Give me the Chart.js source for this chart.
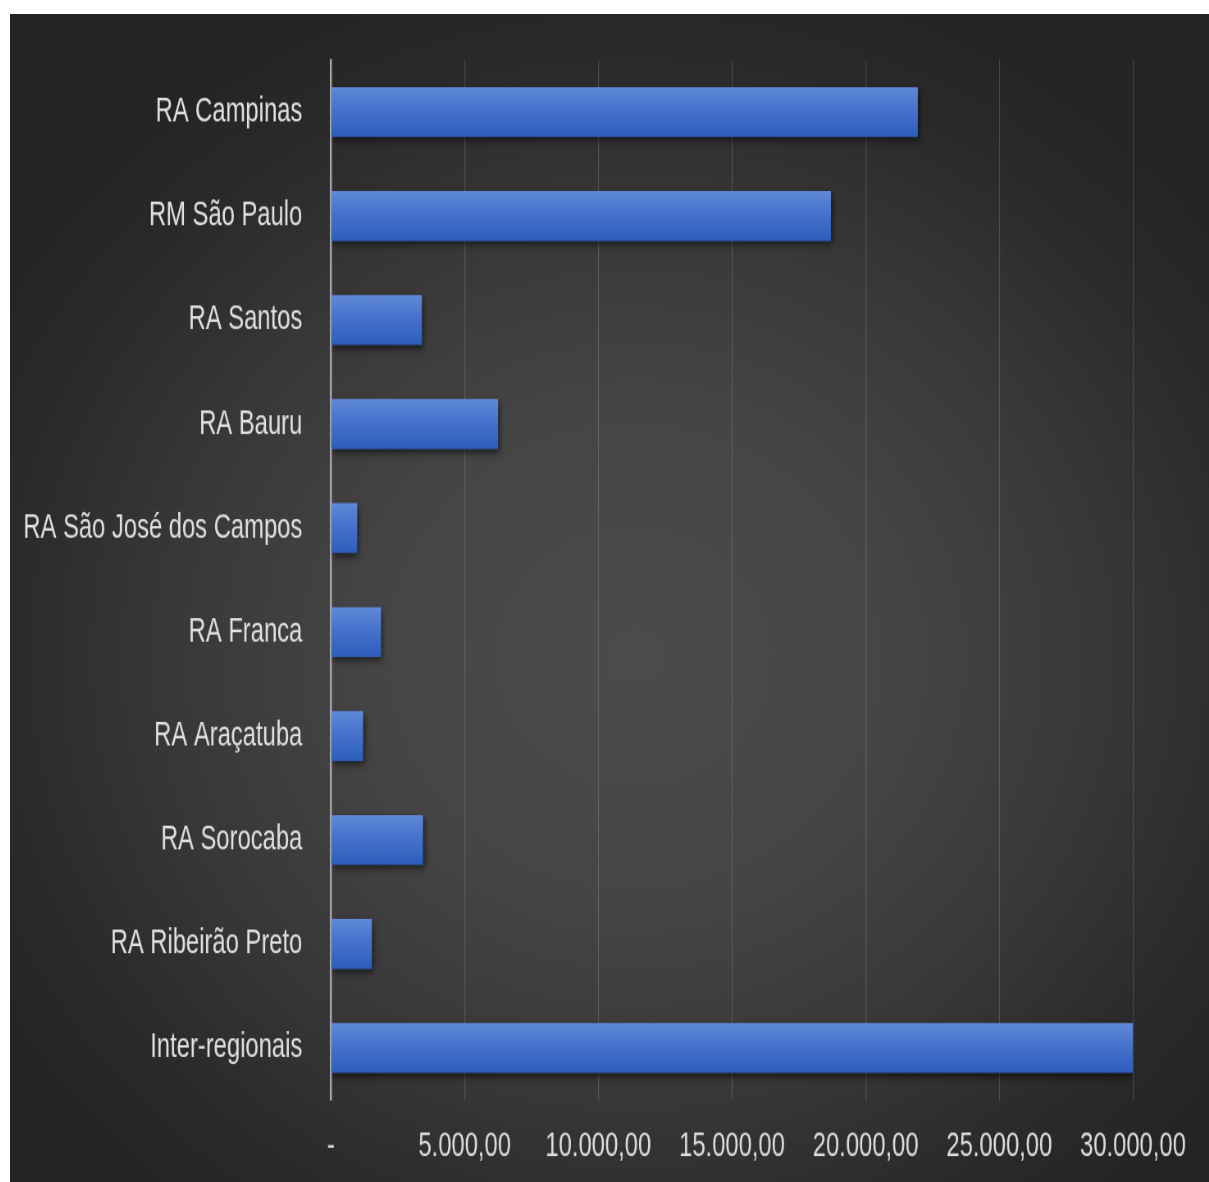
<!DOCTYPE html>
<html>
<head>
<meta charset="utf-8">
<script src="https://cdn.jsdelivr.net/npm/chart.js@4/dist/chart.umd.min.js"></script>
<style>
  html, body { margin: 0; padding: 0; background: #ffffff; width: 1209px; height: 1182px; overflow: hidden; }
  #frame {
    position: absolute; left: 10px; top: 14px; width: 1199px; height: 1168px;
    background: radial-gradient(ellipse 62% 60% at 52% 55%, #4b4b4b 0%, #454545 35%, #383838 62%, #2a2a2a 85%, #242424 100%);
    overflow: hidden;
  }
  #c { position: absolute; left: 0; top: 0; transform-origin: 0 0; transform: scale(0.82011, 1.17980); }
</style>
</head>
<body>
<div id="frame"><canvas id="c" width="1462" height="990"></canvas></div>
<script>
const categories = [
  'RA Campinas',
  'RM São Paulo',
  'RA Santos',
  'RA Bauru',
  'RA São José dos Campos',
  'RA Franca',
  'RA Araçatuba',
  'RA Sorocaba',
  'RA Ribeirão Preto',
  'Inter-regionais'
];
const values = [21950, 18700, 3400, 6250, 980, 1870, 1200, 3440, 1530, 30000];
const xTickValues = [0, 5000, 10000, 15000, 20000, 25000, 30000];
const xTickLabels = ['-', '5.000,00', '10.000,00', '15.000,00', '20.000,00', '25.000,00', '30.000,00'];

const FONT = "'Liberation Sans', Arial, sans-serif";

const barStyle = {
  id: 'barStyle',
  beforeDatasetsDraw(chart) {
    const ctx = chart.ctx;
    chart.getDatasetMeta(0).data.forEach(el => {
      const top = el.y - el.height / 2, bot = el.y + el.height / 2;
      const g = ctx.createLinearGradient(0, top, 0, bot);
      g.addColorStop(0, '#6089d9');
      g.addColorStop(0.45, '#4673cc');
      g.addColorStop(1, '#2d5dbc');
      el.options.backgroundColor = g;
    });
    ctx.save();
    ctx.shadowColor = 'rgba(0,0,0,0.55)';
    ctx.shadowBlur = 6;
    ctx.shadowOffsetX = 2;
    ctx.shadowOffsetY = 3;
  },
  afterDatasetsDraw(chart) {
    chart.ctx.restore();
  }
};

new Chart(document.getElementById('c'), {
  type: 'bar',
  data: {
    labels: categories,
    datasets: [{
      data: values,
      backgroundColor: () => '#4472c4',
      borderWidth: 0,
      categoryPercentage: 1,
      barPercentage: 0.48
    }]
  },
  options: {
    indexAxis: 'y',
    responsive: false,
    animation: false,
    layout: { padding: { left: 0, right: 92.7, top: 39, bottom: 0 } },
    plugins: { legend: { display: false }, tooltip: { enabled: false } },
    scales: {
      x: {
        min: 0, max: 30000,
        afterBuildTicks(scale) { scale.ticks = xTickValues.map(v => ({ value: v })); },
        afterFit(scale) { scale.height = 69.5; scale.paddingLeft = 0; scale.paddingRight = 0; },
        grid: { color: 'rgba(255,255,255,0.15)', lineWidth: 1.2, drawTicks: false },
        border: { display: false },
        ticks: {
          color: '#dcdcdc',
          font: { family: FONT, size: 29 },
          padding: 22,
          maxRotation: 0,
          autoSkip: false,
          callback: (v, i) => xTickLabels[i]
        }
      },
      y: {
        afterFit(scale) { scale.width = 391.4; scale.paddingTop = 0; scale.paddingBottom = 0; },
        grid: { display: false },
        border: { display: true, color: '#a8a8a8', width: 2.4 },
        ticks: {
          color: '#e0e0e0',
          font: { family: FONT, size: 29 },
          padding: 27,
          autoSkip: false
        }
      }
    }
  },
  plugins: [barStyle]
});
</script>
</body>
</html>
